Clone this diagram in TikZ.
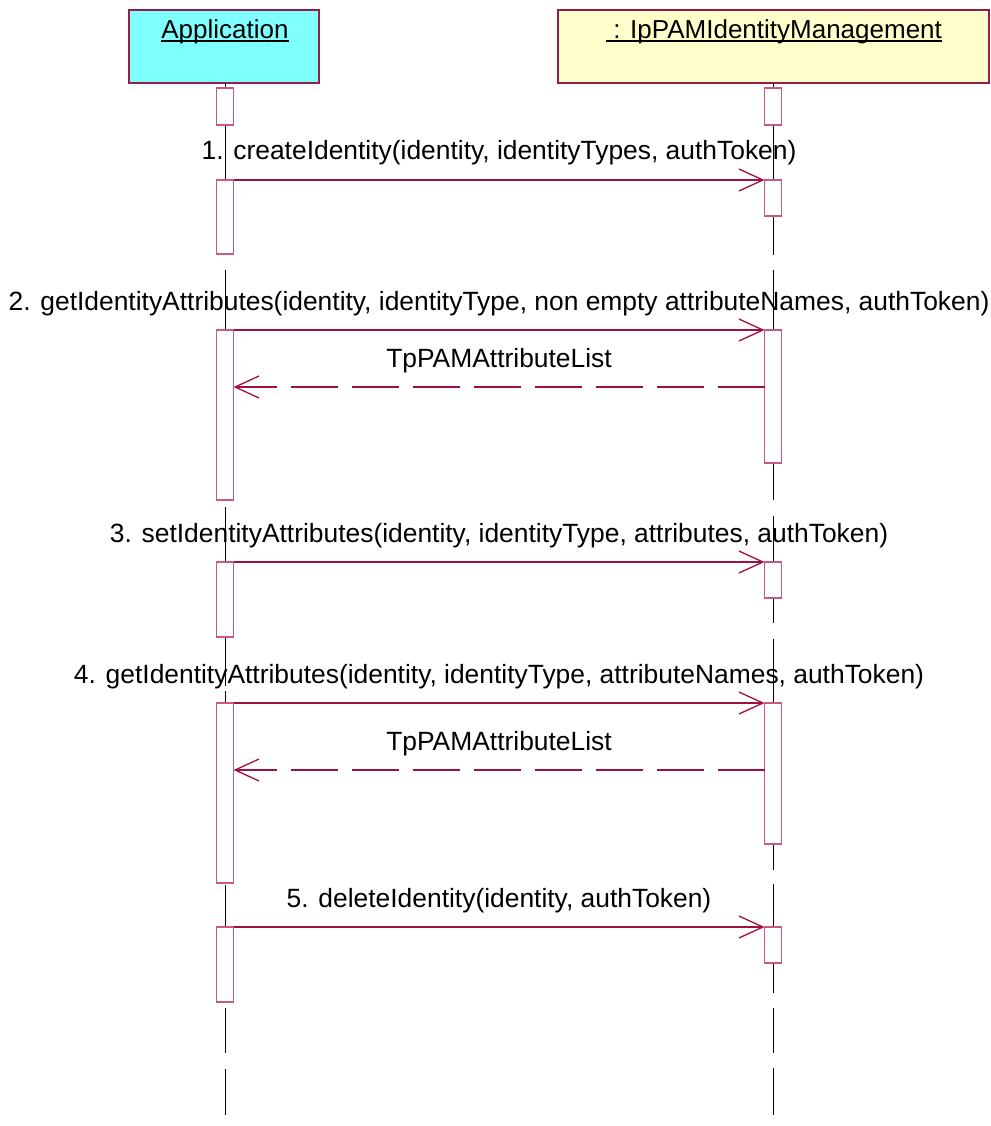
\documentclass[tikz,border=0pt]{standalone}
\usepackage{fontspec}
\setmainfont{Liberation Sans}
\usepackage{xcolor}
\usepackage{tikz}
\usetikzlibrary{positioning, arrows.meta, calc}

\definecolor{msgred}{RGB}{160,16,64}
\definecolor{barpink}{RGB}{200,90,130}
\definecolor{boxedge}{RGB}{150,30,70}
\definecolor{appcyan}{RGB}{128,255,255}
\definecolor{mgmtyellow}{RGB}{255,255,204}

\newcommand{\objname}[1]{\setbox0\hbox{#1}\rlap{\rule[-3.5pt]{\wd0}{2pt}}\box0}

\begin{document}
\begin{tikzpicture}[x=1pt, y=-1pt,
        actor/.style={draw=boxedge, line width=1.2pt, inner sep=0pt, outer sep=0pt, minimum height=73pt},
        actorname/.style={anchor=base, inner sep=0pt, font=\fontsize{26pt}{30pt}\selectfont},
        bar/.style={draw=barpink, fill=white, line width=1.2pt, inner sep=0pt, outer sep=0pt, minimum width=17pt, anchor=north},
        lifeline/.style={draw=black, line width=0.9pt},
        msg/.style={draw=msgred, line width=1.3pt, -{Straight Barb[length=24pt, width=22pt, line width=1.3pt]}},
        reply/.style={msg, dash pattern=on 47pt off 14pt},
        lbl/.style={anchor=base, yshift=20pt, inner sep=0pt, text=black, font=\fontsize{26.4pt}{30pt}\selectfont}]
        \useasboundingbox (0,0) rectangle (990,1126);

        % objects
        \node[actor, fill=appcyan, minimum width=190pt, anchor=north west] (app) at (129,10) {};
        \node[actor, fill=mgmtyellow, minimum width=431pt, anchor=north west] (mgmt) at (558,10) {};
        \node[actorname] (appname) at (225,39) {\objname{Application}};
        \node[actorname] (mgmtname) at (774,39) {\objname{\ : IpPAMIdentityManagement}};

        % lifelines
        \foreach \ya/\yb in {83/88, 125/180, 270/330, 507/562, 637/686, 691/703, 885/927, 1008/1053, 1069/1115}
            \draw[lifeline] (225,\ya) -- (225,\yb);
        \foreach \ya/\yb in {83/88, 125/180, 216/255, 270/330, 463/500, 516/562, 598/623, 639/703, 844/870, 884/927, 963/993, 1008/1053, 1068/1115}
            \draw[lifeline] (773,\ya) -- (773,\yb);

        % activations
        \node[bar, minimum height=37pt] (a1) at (225,88) {};
        \node[bar, minimum height=74pt] (a2) at (225,180) {};
        \node[bar, minimum height=170pt] (a3) at (225,330) {};
        \node[bar, minimum height=75pt] (a4) at (225,562) {};
        \node[bar, minimum height=180pt] (a5) at (225,703) {};
        \node[bar, minimum height=75pt] (a6) at (225,927) {};
        \node[bar, minimum height=37pt] (b1) at (773,88) {};
        \node[bar, minimum height=36pt] (b2) at (773,180) {};
        \node[bar, minimum height=133pt] (b3) at (773,330) {};
        \node[bar, minimum height=36pt] (b4) at (773,562) {};
        \node[bar, minimum height=141pt] (b5) at (773,703) {};
        \node[bar, minimum height=36pt] (b6) at (773,927) {};

        \coordinate (r3) at (0,387);
        \coordinate (r5) at (0,770);

        % messages
        \draw[msg] (a2.north east) -- node[lbl] {1. createIdentity(identity, identityTypes, authToken)} (b2.north west);
        \draw[msg] (a3.north east) -- node[lbl] {2. getIdentityAttributes(identity, identityType, non empty attributeNames, authToken)} (b3.north west);
        \draw[reply] (b3.west |- r3) -- node[lbl] {TpPAMAttributeList} (a3.east |- r3);
        \draw[msg] (a4.north east) -- node[lbl] {3. setIdentityAttributes(identity, identityType, attributes, authToken)} (b4.north west);
        \draw[msg] (a5.north east) -- node[lbl] {4. getIdentityAttributes(identity, identityType, attributeNames, authToken)} (b5.north west);
        \draw[reply] (b5.west |- r5) -- node[lbl] {TpPAMAttributeList} (a5.east |- r5);
        \draw[msg] (a6.north east) -- node[lbl] {5. deleteIdentity(identity, authToken)} (b6.north west);
\end{tikzpicture}
\end{document}
